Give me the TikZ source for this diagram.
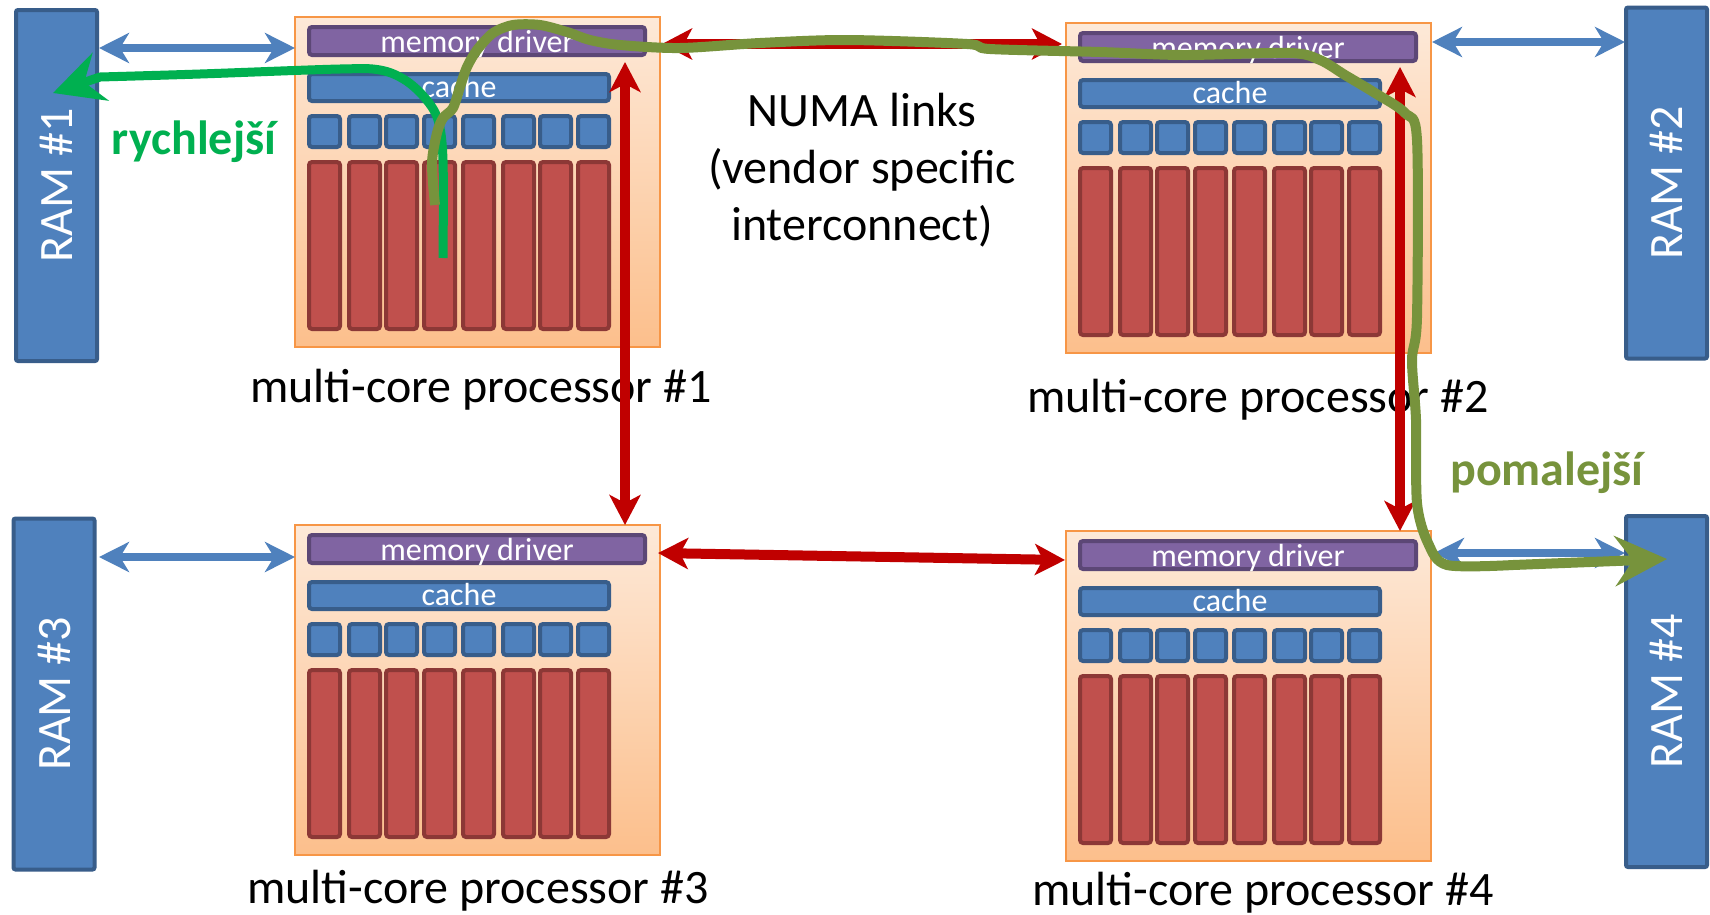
\documentclass[tikz,border=0pt]{standalone}
\usepackage{fontspec}
\setmainfont{Carlito}
\usetikzlibrary{arrows.meta,calc}
\definecolor{ramfill}{RGB}{79,129,189}
\definecolor{ramdraw}{RGB}{56,93,138}
\definecolor{mdfill}{RGB}{128,100,162}
\definecolor{mddraw}{RGB}{92,71,118}
\definecolor{corefill}{RGB}{192,80,77}
\definecolor{coredraw}{RGB}{140,56,54}
\definecolor{proctop}{RGB}{253,233,216}
\definecolor{procbot}{RGB}{252,191,140}
\definecolor{procdraw}{RGB}{247,150,70}
\definecolor{linkred}{RGB}{192,0,0}
\definecolor{fastgreen}{RGB}{0,176,80}
\definecolor{slowgreen}{RGB}{119,147,60}
\tikzset{
  procbox/.style={draw=procdraw, line width=2pt, top color=proctop, bottom color=procbot,
    minimum width=365pt, minimum height=330pt, inner sep=0pt, outer sep=0pt, anchor=north west},
  unitbox/.style={line width=4pt, rounded corners=3pt, inner sep=0pt, outer sep=0pt, anchor=north west},
  mdbox/.style={unitbox, fill=mdfill, draw=mddraw, minimum width=336pt, minimum height=28pt,
    text=white, font=\fontsize{32}{32}\selectfont, text height=25pt, text depth=3pt},
  cachebox/.style={unitbox, fill=ramfill, draw=ramdraw, minimum width=300pt, minimum height=27pt,
    text=white, font=\fontsize{32}{32}\selectfont, text height=23pt, text depth=4pt},
  sqbox/.style={unitbox, fill=ramfill, draw=ramdraw, minimum width=31pt, minimum height=31pt},
  corebox/.style={unitbox, fill=corefill, draw=coredraw, minimum width=31pt, minimum height=167pt},
  rambox/.style={fill=ramfill, draw=ramdraw, line width=4pt, rounded corners=2pt,
    minimum width=81pt, minimum height=351pt, inner sep=0pt, outer sep=0pt},
  ramtext/.style={rotate=90, text=white, font=\fontsize{48}{48}\selectfont, inner sep=0pt},
  bigtext/.style={font=\fontsize{48}{57}\selectfont, anchor=base, inner sep=0pt},
  bluelink/.style={draw=ramfill, line width=8pt,
    {Stealth[length=30pt,width=30pt,inset=9pt]}-{Stealth[length=30pt,width=30pt,inset=9pt]}},
  redlink/.style={draw=linkred, line width=10pt,
    {Stealth[length=30pt,width=31pt,inset=8pt]}-{Stealth[length=30pt,width=31pt,inset=8pt]}},
  fastlink/.style={draw=fastgreen, line width=9pt, line join=round,
    -{Stealth[length=50pt,width=50pt,inset=17pt]}},
  slowlink/.style={draw=slowgreen, line width=10pt, line join=round,
    -{Stealth[length=52pt,width=50pt,inset=18pt]}}
}
\newcommand\procunit[3]{%
  \node[procbox] (#1) at (#2,#3) {};
  \node[mdbox] (#1md) at ({#2+14},{#3+10}) {memory driver};
  \node[cachebox] (#1cache) at ({#2+14},{#3+57}) {cache};
  \foreach \i/\dx in {1/12,2/52,3/89,4/127,5/166,6/206,7/243,8/281}{
    \node[sqbox] (#1sq\i) at ({#2+\dx+2},{#3+99}) {};
    \node[corebox] (#1core\i) at ({#2+\dx+2},{#3+145}) {};
  }%
}
\begin{document}
\begin{tikzpicture}[x=1pt,y=-1pt]
\fill[white] (0,0) rectangle (1710,914);
\useasboundingbox (0,0) rectangle (1710,914);

% RAM modules
\node[rambox] (RAM1) at (56.5,185.5) {};
\node[rambox] (RAM2) at (1666.5,183) {};
\node[rambox] (RAM3) at (54,694) {};
\node[rambox] (RAM4) at (1666.5,691.5) {};
\node[ramtext] (RAM1t) at (RAM1.center) {RAM \#1};
\node[ramtext] (RAM2t) at (RAM2.center) {RAM \#2};
\node[ramtext] (RAM3t) at (RAM3.center) {RAM \#3};
\node[ramtext] (RAM4t) at (RAM4.center) {RAM \#4};

% processors
\procunit{P1}{295}{17}
\procunit{P2}{1066}{23}
\procunit{P3}{295}{525}
\procunit{P4}{1066}{531}

% labels
\node[bigtext] (P1l) at (481,402) {multi-core processor \#1};
\node[bigtext] (P2l) at (1258,412) {multi-core processor \#2};
\node[bigtext] (P3l) at (478,903) {multi-core processor \#3};
\node[bigtext] (P4l) at (1263,905) {multi-core processor \#4};
\node[bigtext] (numa1) at (862,126) {NUMA links};
\node[bigtext] (numa2) at (862,183) {(vendor specific};
\node[bigtext] (numa3) at (862,240) {interconnect)};
\node[bigtext, font=\fontsize{48}{57}\selectfont\bfseries, text=fastgreen] (fastl) at (194,154) {rychlejší};
\node[bigtext, font=\fontsize{48}{57}\selectfont\bfseries, text=slowgreen] (slowl) at (1547,485) {pomalejší};

% NUMA links
\draw[redlink] ($(P1.north east)+(2,27)$) -- ($(P2.north west)+(-4,21)$);
\draw[redlink] ($(P1.north west)+(330,45)$) -- ($(P3.north west)+(330,0)$);
\draw[redlink] ($(P2.north west)+(334,44)$) -- ($(P4.north west)+(334,0)$);
\draw[redlink] ($(P3.north east)+(-2,28)$) -- ($(P4.north west)+(-1,29)$);

% memory links
\draw[bluelink] ($(RAM1.north east)+(2,38)$) -- ($(P1.north west)+(0,31)$);
\draw[bluelink] ($(RAM3.north east)+(4.5,38.5)$) -- ($(P3.north west)+(0,32)$);
\draw[bluelink] ($(P2.north east)+(1,19)$) -- ($(RAM2.north west)+(-1,34.5)$);
\draw[bluelink] ($(P4.north east)+(3,22)$) -- ($(RAM4.north west)+(-1,37)$);

% access paths
\coordinate (fastsrc) at (443,258);
\coordinate (fasttip) at ($(RAM1.north east)+(-44,83)$);
\draw[fastlink] plot[smooth, tension=0.55] coordinates {(fastsrc) (443,160) (438,120) (425,98) (405,80) (380,70) (340,69) (200,74) (100,77)} -- (fasttip);

\coordinate (slowsrc) at (435,205);
\coordinate (slowtip) at ($(RAM4.north west)+(41,43)$);
\draw[slowlink] plot[smooth, tension=0.5] coordinates {(slowsrc) (432,163) (437,133) (443,118) (453,108) (460,87) (467,67) (477,50) (493,33) (513,25) (540,25) (567,32) (590,40) (620,45) (680,48) (760,43) (847,40) (967,44) (990,49) (1100,52) (1183,55) (1290,53) (1320,60) (1345,75) (1375,93) (1405,113) (1417,140) (1417,317) (1412,360) (1416,420) (1417,503) (1428,543) (1447,565) (1513,565)} -- (slowtip);
\end{tikzpicture}
\end{document}
